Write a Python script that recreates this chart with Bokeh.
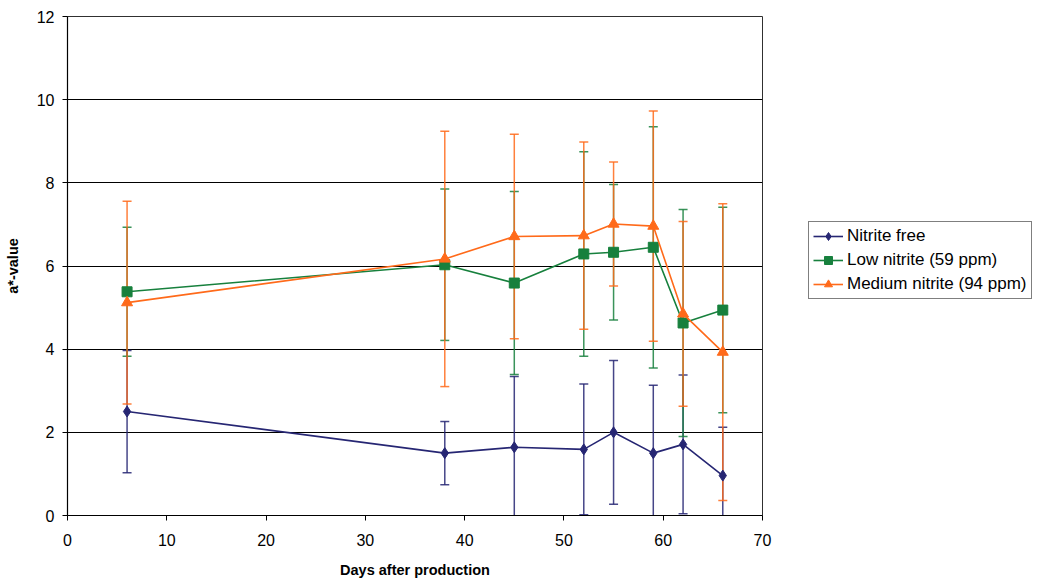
from bokeh.plotting import figure
from bokeh.layouts import row
from bokeh.models import (ColumnDataSource, Whisker, TeeHead, Legend, LegendItem,
                          Range1d, FixedTicker)
from bokeh.embed import file_html
from bokeh.resources import INLINE

days = [6, 38, 45, 52, 55, 59, 62, 66]

free_mean = [2.50, 1.50, 1.64, 1.59, 2.00, 1.50, 1.71, 0.96]
free_err = [1.47, 0.76, 1.70, 1.57, 1.73, 1.63, 1.67, 1.16]

low_mean = [5.38, 6.03, 5.59, 6.29, 6.33, 6.45, 4.63, 4.94]
low_err = [1.55, 1.82, 2.20, 2.46, 1.63, 2.90, 2.73, 2.47]

med_mean = [5.12, 6.17, 6.71, 6.73, 7.01, 6.96, 4.85, 3.93]
med_err = [2.44, 3.07, 2.46, 2.25, 1.49, 2.77, 2.22, 3.57]

labels = ["Nitrite free", "Low nitrite (59 ppm)", "Medium nitrite (94 ppm)"]
colors = ["#262673", "#17803d", "#FF6A1A"]
markers = ["diamond", "square", "triangle"]
msizes = [11, 10, 11]

x_ticks = [0, 10, 20, 30, 40, 50, 60, 70]
y_ticks = [0, 2, 4, 6, 8, 10, 12]

W1, W2, H = 780, 253, 580
FL, FT, FR, FB = 67, 16, 762, 515   # frame edges in figure px
p = figure(width=W1, height=H, output_backend="svg", toolbar_location=None,
           x_range=Range1d(0, 70), y_range=Range1d(0, 12),
           min_border_left=FL, min_border_top=FT,
           min_border_right=W1 - FR, min_border_bottom=H - FB)
p.background_fill_color = "white"
p.border_fill_color = "white"
p.outline_line_color = "#303030"

p.xgrid.grid_line_color = None
p.ygrid.grid_line_color = "#000000"
p.ygrid.grid_line_width = 1
p.ygrid.ticker = FixedTicker(ticks=y_ticks)

for ax, ticks in ((p.xaxis, x_ticks), (p.yaxis, y_ticks)):
    ax.ticker = FixedTicker(ticks=ticks)
    ax.axis_line_color = "black"
    ax.axis_line_width = 1.2
    ax.major_tick_line_color = "black"
    ax.major_tick_in = 0
    ax.major_tick_out = 5
    ax.minor_tick_line_color = None
    ax.major_label_text_font = "Liberation Sans"
    ax.major_label_text_font_size = "16px"
    ax.major_label_text_color = "black"
    ax.axis_label_text_font = "Liberation Sans"
    ax.axis_label_text_font_size = "14.5px"
    ax.axis_label_text_font_style = "bold"
    ax.axis_label_text_color = "black"

p.xaxis.axis_label = "Days after production"
p.yaxis.axis_label = "a*-value"
p.xaxis.major_label_standoff = 13
p.yaxis.major_label_standoff = 8
p.xaxis.axis_label_standoff = 13
p.yaxis.axis_label_standoff = 13

series = [(free_mean, free_err), (low_mean, low_err), (med_mean, med_err)]
for (m, e), c in zip(series, colors):
    src = ColumnDataSource(dict(x=days, upper=[a + b for a, b in zip(m, e)],
                                lower=[a - b for a, b in zip(m, e)]))
    w = Whisker(source=src, base="x", upper="upper", lower="lower",
                line_color=c, line_width=1.5, line_alpha=0.85,
                upper_head=TeeHead(size=9, line_color=c, line_width=1.5, line_alpha=0.85),
                lower_head=TeeHead(size=9, line_color=c, line_width=1.5, line_alpha=0.85))
    p.add_layout(w)

for (m, e), c, mk, ms in zip(series, colors, markers, msizes):
    src = ColumnDataSource(dict(x=days, y=m))
    p.line("x", "y", source=src, line_color=c, line_width=1.6)
    p.scatter("x", "y", source=src, marker=mk, size=ms, fill_color=c, line_color=c)

# legend panel (separate figure, same glyph styles; its proxy glyphs lie outside its ranges)
q = figure(width=W2, height=H, output_backend="svg", toolbar_location=None,
           x_range=Range1d(0, 1), y_range=Range1d(0, 1),
           x_axis_location=None, y_axis_location=None,
           min_border_left=0, min_border_right=0, min_border_top=0, min_border_bottom=0)
q.grid.grid_line_color = None
q.outline_line_color = None
q.background_fill_color = "white"
q.border_fill_color = "white"
items = []
for c, mk, ms, lab in zip(colors, markers, msizes, labels):
    proxy = ColumnDataSource(dict(x=[-5, -6], y=[-5, -6]))
    r1 = q.line("x", "y", source=proxy, line_color=c, line_width=1.6)
    r2 = q.scatter("x", "y", source=proxy, marker=mk, size=ms - 1, fill_color=c, line_color=c)
    items.append(LegendItem(label=lab, renderers=[r1, r2]))

# row() aligns the two frames, so the legend is placed relative to the shared frame bottom
legend = Legend(items=items, location=(808 - W1, FB - 299))
legend.label_text_font = "Liberation Sans"
legend.label_text_font_size = "17px"
legend.label_text_color = "black"
legend.border_line_color = "black"
legend.border_line_width = 1
legend.glyph_width = 30
legend.glyph_height = 20
legend.spacing = 4
legend.padding = 4
legend.margin = 0
legend.label_standoff = 4
legend.label_height = 20
legend.background_fill_color = "white"
q.add_layout(legend, "center")

layout = row(p, q, spacing=0)
open("out.html", "w").write(file_html(layout, INLINE))
